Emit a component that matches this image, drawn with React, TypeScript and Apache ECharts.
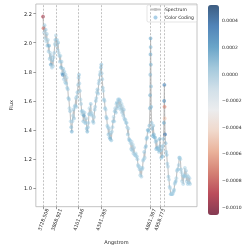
import React, { useEffect, useRef } from "react";
import * as echarts from "echarts";

const wavelength = [
  3724, 3729, 3734, 3740, 3746, 3752, 3758, 3764, 3770, 3776,
  3782, 3788, 3794, 3800, 3806, 3812, 3818, 3824, 3830, 3836,
  3842, 3848, 3854, 3860, 3866, 3872, 3878, 3884, 3890, 3896,
  3902, 3908, 3914, 3920, 3926, 3932, 3938, 3944, 3950, 3956,
  3962, 3968, 3974, 3980, 3986, 3992, 3998, 4004, 4010, 4016,
  4022, 4028, 4034, 4040, 4046, 4052, 4058, 4064, 4070, 4076,
  4082, 4088, 4094, 4100, 4104, 4108, 4114, 4120, 4126, 4132,
  4138, 4144, 4150, 4156, 4162, 4168, 4174, 4180, 4186, 4192,
  4198, 4204, 4210, 4216, 4222, 4228, 4234, 4240, 4246, 4252,
  4258, 4264, 4270, 4276, 4282, 4288, 4294, 4300, 4306, 4312,
  4318, 4324, 4330, 4336, 4340, 4344, 4350, 4356, 4362, 4368,
  4374, 4380, 4386, 4392, 4398, 4404, 4410, 4416, 4422, 4428,
  4434, 4440, 4446, 4452, 4458, 4464, 4470, 4476, 4482, 4488,
  4494, 4500, 4506, 4512, 4518, 4524, 4530, 4536, 4542, 4548,
  4554, 4560, 4566, 4572, 4578, 4584, 4590, 4596, 4602, 4608,
  4614, 4620, 4626, 4632, 4638, 4644, 4650, 4656, 4662, 4668,
  4674, 4680, 4686, 4692, 4698, 4704, 4710, 4716, 4722, 4728,
  4734, 4740, 4746, 4752, 4758, 4764, 4770, 4776, 4782, 4788,
  4794, 4800, 4806, 4812, 4818, 4824, 4830, 4836, 4842, 4848,
  4854, 4856, 4858, 4860, 4861, 4862, 4864, 4866, 4868, 4872,
  4878, 4884, 4890, 4896, 4902, 4908, 4914, 4920, 4926, 4932,
  4938, 4944, 4950, 4956, 4959, 4962, 4968, 4974, 4980, 4986,
  4992, 4998, 5002, 5005, 5007, 5009, 5011, 5014, 5020, 5026,
  5032, 5038, 5044, 5050, 5056, 5062, 5068, 5074, 5080, 5086,
  5092, 5098, 5104, 5110, 5116, 5122, 5128, 5134, 5140, 5146,
  5152, 5158, 5164, 5170, 5176, 5182, 5188, 5194, 5200, 5206,
  5212, 5218, 5224, 5230, 5236, 5242, 5248, 5254, 5260, 5266,
  5272, 5278,
];

const flux = [
  2.18, 2.10, 2.07, 2.12, 2.03, 2.09, 2.01, 2.06, 1.98, 2.02,
  1.94, 1.98, 1.89, 1.93, 1.85, 1.91, 1.83, 1.88, 1.84, 1.90,
  1.93, 1.99, 2.02, 2.05, 1.98, 2.02, 1.95, 2.00, 1.93, 1.91,
  1.87, 1.91, 1.83, 1.87, 1.79, 1.78, 1.82, 1.75, 1.80, 1.73,
  1.78, 1.72, 1.76, 1.69, 1.68, 1.62, 1.61, 1.55, 1.53, 1.46,
  1.42, 1.39, 1.46, 1.50, 1.54, 1.48, 1.56, 1.57, 1.62, 1.56,
  1.63, 1.66, 1.71, 1.76, 1.78, 1.72, 1.67, 1.61, 1.58, 1.53,
  1.51, 1.53, 1.46, 1.50, 1.52, 1.45, 1.45, 1.48, 1.41, 1.39,
  1.42, 1.45, 1.51, 1.55, 1.51, 1.58, 1.52, 1.50, 1.51, 1.46,
  1.45, 1.49, 1.54, 1.56, 1.60, 1.62, 1.66, 1.68, 1.65, 1.72,
  1.74, 1.78, 1.80, 1.83, 1.85, 1.79, 1.75, 1.69, 1.67, 1.61,
  1.60, 1.55, 1.54, 1.49, 1.48, 1.43, 1.42, 1.37, 1.41, 1.35,
  1.34, 1.38, 1.33, 1.39, 1.42, 1.46, 1.49, 1.46, 1.53, 1.55,
  1.52, 1.58, 1.59, 1.55, 1.61, 1.57, 1.61, 1.56, 1.60, 1.54,
  1.58, 1.52, 1.56, 1.50, 1.54, 1.48, 1.47, 1.47, 1.45, 1.45,
  1.42, 1.37, 1.41, 1.34, 1.33, 1.33, 1.31, 1.27, 1.32, 1.26,
  1.30, 1.24, 1.28, 1.23, 1.23, 1.24, 1.22, 1.22, 1.20, 1.16,
  1.15, 1.15, 1.13, 1.09, 1.14, 1.08, 1.13, 1.14, 1.19, 1.20,
  1.25, 1.21, 1.28, 1.29, 1.34, 1.35, 1.40, 1.40, 1.39, 1.43,
  1.55, 1.64, 1.78, 1.92, 2.03, 1.97, 1.85, 1.70, 1.56, 1.45,
  1.41, 1.36, 1.43, 1.37, 1.35, 1.35, 1.32, 1.27, 1.33, 1.28,
  1.27, 1.27, 1.25, 1.26, 1.34, 1.29, 1.26, 1.21, 1.27, 1.22,
  1.29, 1.34, 1.45, 1.60, 1.71, 1.56, 1.48, 1.37, 1.31, 1.25,
  1.23, 1.17, 1.15, 1.08, 1.06, 1.01, 1.00, 0.96, 0.96, 0.96,
  0.96, 0.97, 0.98, 0.99, 1.03, 1.04, 1.05, 1.07, 1.12, 1.13,
  1.13, 1.16, 1.21, 1.21, 1.20, 1.13, 1.11, 1.05, 1.09, 1.03,
  1.08, 1.09, 1.14, 1.08, 1.12, 1.05, 1.09, 1.03, 1.08, 1.04,
  1.07, 1.03,
];

// colour-coding value, in units of 1e-4
const colorCode = [
  -9.5, -7.8, -0.4, 0.2, -0.1, 0.3, -0.3, 0.1, 0.6, -0.1,
  0.1, 1.2, 0.3, -0.2, 1.6, 0.1, 0, 0.5, -0.3, 0.2,
  0.1, -0.1, 0.4, -0.3, 0.1, 0.3, 0, 0.6, -0.2, 0.1,
  0.2, -0.1, 1.1, 0.3, 0.1, 2.6, 0.5, 0, 0.2, -0.2,
  0.1, 0.4, -0.3, 0.3, 0, 0.6, 0.1, -0.1, 0.3, -0.3,
  0.6, 1.3, 0.1, -0.2, 0.2, 0.5, 0, 0.1, -0.3, 0.3,
  0.1, 0.4, -0.1, 0.2, 0.6, 0, 0.3, -0.2, 0.1, 0.5,
  -0.1, 0.2, 0.4, 1.6, 0.1, -0.3, 0.3, 0.1, 0.6, 1.1,
  0.2, 0, 0.3, -0.2, 0.1, 0.4, -0.1, 0.2, -0.3, 0.3,
  0.1, -0.2, 0.3, 0, 0.5, 0.1, -0.1, 0.4, 0.2, 0,
  0.3, 0.1, -0.1, 0.5, 0.7, 0.1, 0, 0.3, -0.2, 0.2,
  0.1, 0.4, -0.3, 0.1, 0.3, -0.1, 0.2, 0.6, 0, 0.4,
  1.1, 0.2, 0.5, -0.1, 0.1, 0.3, -0.3, 0.2, 0.4, 0,
  0.3, -0.1, 0.5, 0.1, 0.2, -0.2, 0.4, 0.1, 0, 0.3,
  -0.1, 0.2, -0.3, 0.1, 0.4, 0, 0.2, -0.2, 0.3, 0.1,
  0, 0.3, -0.3, 0.1, 0.5, 0.2, -0.1, 0.1, -0.4, 0.3,
  -0.2, 0.1, 0, -0.3, 0.2, -0.1, 0.1, -0.2, 0.3, 0,
  0.1, -0.3, 0.2, -0.1, -0.4, 0.1, -0.2, 0.3, 0, 0.2,
  0.4, -0.1, 0.1, 0.7, 0.3, 0.5, 0.2, 0.9, 0.4, 0.6,
  0.9, 1.1, 0.7, 1.3, 1.6, 0.9, 1.1, 0.6, 0.8, 0.4,
  0.7, 1.1, 0.3, 0.9, 1.5, 0.5, 0.2, 0.7, 0.4, 1,
  0.3, 0.6, 0.1, 0.4, 1.1, 0.7, 0.3, 0.5, 0.1, 0.8,
  0.4, 0.6, 1.5, 2.6, 3.2, -7, -5, 3.8, 0.7, 0.3,
  0.5, 0.1, 0, 0.3, -0.2, 0.1, -0.3, 0, 0.2, -0.1,
  0.1, -0.3, 0, 0.3, -0.2, 0.1, 0.4, -0.1, 0.1, -0.3,
  0.2, 0, 0.5, 0.1, -0.1, 0.3, -0.2, 0.1, -0.3, 0,
  0.1, 0.3, -0.1, 0.4, 0, 0.1, -0.2, 0.2, -0.1, 0.1,
  0, 0.2,
];

const lineWavelengths = [3728.508, 3868.921, 4101.246, 4341.385, 4861.367, 4958.773, 5007.415];
const lineLabels = ["3728.508", "3868.921", "4101.246", "4341.385", "4861.367", "4958.773", "5007.415"];
const fluxTicks = [1.0, 1.2, 1.4, 1.6, 1.8, 2.0, 2.2];
const colorTicks = [-0.001, -0.0008, -0.0006, -0.0004, -0.0002, 0, 0.0002, 0.0004];
const colorRange = [-0.00106, 0.00052];
const xRange = [3648, 5352];
const yRange = [0.874, 2.266];
const rdbu = [
  "#67001f", "#b2182b", "#d6604d", "#f4a582", "#fddbc7", "#f7f7f7",
  "#d1e5f0", "#92c5de", "#4393c3", "#2166ac", "#053061",
];

function withAlpha(hex: string, a: number) {
  const r = parseInt(hex.slice(1, 3), 16);
  const g = parseInt(hex.slice(3, 5), 16);
  const b = parseInt(hex.slice(5, 7), 16);
  return `rgba(${r},${g},${b},${a})`;
}

export default function App() {
  const ref = useRef<HTMLDivElement>(null);
  useEffect(() => {
    const chart = echarts.init(ref.current!, null, { renderer: "svg" });
    const font = "DejaVu Sans";
    const lineData = wavelength.map((w, i) => [w, flux[i]]);
    const scatterData = wavelength.map((w, i) => [w, flux[i], colorCode[i] * 1e-4]);
    const fmtColor = (v: number) => {
      const s = Math.abs(v).toFixed(4);
      return v < -1e-9 ? "\u2212" + s : s;
    };
    const fmtLine = (v: number) => {
      let best = 0;
      lineWavelengths.forEach((w, i) => {
        if (Math.abs(w - v) < Math.abs(lineWavelengths[best] - v)) best = i;
      });
      return lineLabels[best];
    };
    chart.setOption({
      animation: false,
      textStyle: { fontFamily: font },
      grid: [
        { left: 19, top: 4, width: 178, height: 210, show: true, borderColor: "#b5b5b5", borderWidth: 0.8, backgroundColor: "transparent" },
        { left: 208, top: 5, width: 11, height: 210, show: false },
      ],
      xAxis: [
        {
          type: "value",
          gridIndex: 0,
          min: xRange[0],
          max: xRange[1],
          name: "Angstrom",
          nameLocation: "middle",
          nameGap: 24,
          nameTextStyle: { fontSize: 5, color: "#222", fontFamily: font },
          axisLine: { show: false },
          splitLine: { show: false },
          axisTick: { show: true, customValues: lineWavelengths, length: 2.5, lineStyle: { color: "#555", width: 0.6 } },
          axisLabel: {
            customValues: lineWavelengths,
            formatter: (v: number) => fmtLine(v),
            rotate: 70,
            align: "center",
            verticalAlign: "middle",
            margin: 13,
            fontSize: 4.8,
            color: "#222",
            fontFamily: font,
          },
        },
        { type: "value", gridIndex: 1, show: false, min: 0, max: 1 },
      ],
      yAxis: [
        {
          type: "value",
          gridIndex: 0,
          min: yRange[0],
          max: yRange[1],
          name: "Flux",
          nameLocation: "middle",
          nameRotate: 90,
          nameGap: 11,
          nameTextStyle: { fontSize: 5, color: "#222", fontFamily: font },
          axisLine: { show: false },
          splitLine: { show: false },
          axisTick: { show: true, customValues: fluxTicks, length: 2.5, lineStyle: { color: "#555", width: 0.6 } },
          axisLabel: {
            customValues: fluxTicks,
            formatter: (v: number) => v.toFixed(1),
            margin: 4,
            fontSize: 5,
            color: "#222",
            fontFamily: font,
          },
        },
        {
          type: "value",
          gridIndex: 1,
          position: "right",
          min: colorRange[0],
          max: colorRange[1],
          axisLine: { show: false },
          splitLine: { show: false },
          axisTick: { show: true, customValues: colorTicks, length: 2.5, lineStyle: { color: "#555", width: 0.6 } },
          axisLabel: {
            customValues: colorTicks,
            formatter: (v: number) => fmtColor(v),
            margin: 3,
            fontSize: 4.5,
            color: "#222",
            fontFamily: font,
          },
        },
      ],
      visualMap: {
        type: "continuous",
        seriesIndex: 1,
        dimension: 2,
        min: colorRange[0],
        max: colorRange[1],
        inRange: { color: rdbu.map((c) => withAlpha(c, 0.72)) },
        left: 208,
        top: 5,
        itemWidth: 11,
        itemHeight: 210,
        padding: 0,
        calculable: false,
        hoverLink: false,
        orient: "vertical",
      },
      legend: {
        data: [
          { name: "Spectrum" },
          { name: "Color Coding", icon: "circle" },
        ],
        orient: "vertical",
        left: 147,
        top: 5,
        itemWidth: 9,
        itemHeight: 4,
        itemGap: 3,
        padding: [2, 3, 2, 3],
        borderColor: "#d3d3d3",
        borderWidth: 0.6,
        borderRadius: 1.5,
        backgroundColor: "rgba(255,255,255,0.8)",
        textStyle: { fontSize: 4.5, color: "#222", fontFamily: font },
        selectedMode: false,
      },
      series: [
        {
          name: "Spectrum",
          type: "line",
          xAxisIndex: 0,
          yAxisIndex: 0,
          data: lineData,
          symbol: "none",
          lineStyle: { color: "#bdbdbd", width: 1.1, opacity: 0.9 },
          itemStyle: { color: "#c4c4c4" },
          markLine: {
            silent: true,
            symbol: ["none", "none"],
            label: { show: false },
            lineStyle: { color: "#a8a8a8", type: [2, 1.5], width: 0.7 },
            data: lineWavelengths.map((w) => ({ xAxis: w })),
          },
          z: 2,
        },
        {
          name: "Color Coding",
          type: "scatter",
          xAxisIndex: 0,
          yAxisIndex: 0,
          data: scatterData,
          symbolSize: 3.8,
          itemStyle: { color: "#8dbfdf", opacity: 0.75 },
          z: 3,
        },
        {
          type: "scatter",
          xAxisIndex: 1,
          yAxisIndex: 1,
          data: [],
        },
      ],
    });
    return () => chart.dispose();
  }, []);
  return <div ref={ref} style={{ position: "fixed", left: 0, top: 0, width: 249, height: 249 }} />;
}
